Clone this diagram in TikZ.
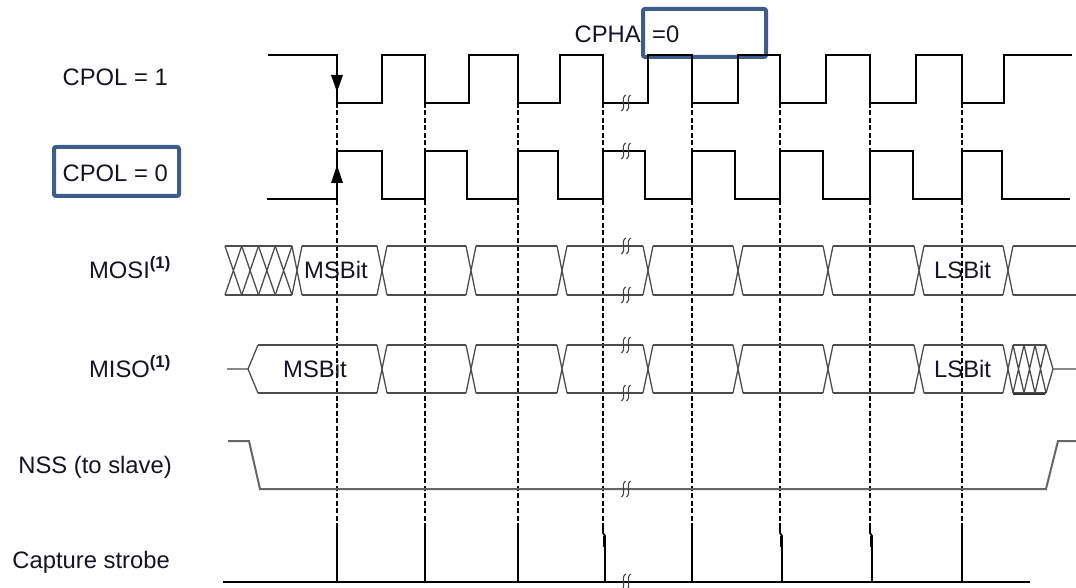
\documentclass[tikz,border=0pt]{standalone}
\usepackage{fontspec}
\setmainfont{Liberation Sans}
\definecolor{boxblue}{RGB}{62,92,138}
\definecolor{txt}{RGB}{20,20,35}
\begin{document}
\begin{tikzpicture}[x=1pt,y=-1pt,
  clk/.style={line width=1.8pt, black, line join=miter},
  dat/.style={line width=1.3pt, black!70},
  nssl/.style={line width=2pt, black!60},
  dsh/.style={line width=1.4pt, black, dash pattern=on 5pt off 2.5pt},
  stb/.style={line width=1.8pt, black},
  lbl/.style={font=\fontsize{23.8}{28}\selectfont, text=txt, inner sep=0pt},
  hl/.style={draw=boxblue, line width=4pt, rounded corners=2pt},
  brkl/.style={line width=1.1pt, black!75},
  brk/.pic={\foreach \d in {-2.5,2.5}{\draw[brkl] ({\d+2},-8) .. controls ({\d-3.5},-3) and ({\d+3.5},3) .. ({\d-2},8);}}
]
\useasboundingbox (0,0) rectangle (1076,588);

% labels
\node[lbl, anchor=base east] (lcpol1) at (168,86) {CPOL = 1};
\node[lbl, anchor=base east] (lcpol0) at (168,182) {CPOL = 0};
\node[lbl, anchor=base east] (lmosi) at (171,278) {MOSI\textsuperscript{\bfseries(1)}};
\node[lbl, anchor=base east] (lmiso) at (171,377) {MISO\textsuperscript{\bfseries(1)}};
\node[lbl, anchor=base east] (lnss) at (172,473) {NSS (to slave)};
\node[lbl, anchor=base east] (lcap) at (170,568) {Capture strobe};
\node[lbl, anchor=base east] (lcpha) at (641,43) {CPHA};
\node[lbl, anchor=base west] (leq) at (652,43) {=0};

% highlight boxes
\draw[hl] (54,147) rectangle (179,196);
\draw[hl] (643,9) rectangle (766,57);

% dashed verticals
\foreach \x in {337,425,518,603,692,780,870,962}
  \draw[dsh] (\x,103)--(\x,528);

% CPOL = 1 clock
\draw[clk] (268,55) -- (337,55) -- (337,103) -- (382,103) -- (382,55) -- (425,55) -- (425,103) -- (469,103) -- (469,55) -- (518,55) -- (518,103) -- (560,103) -- (560,55) -- (603,55) -- (603,103) -- (648,103) -- (648,55) -- (692,55) -- (692,103) -- (738,103) -- (738,55) -- (780,55) -- (780,103) -- (826,103) -- (826,55) -- (870,55) -- (870,103) -- (916,103) -- (916,55) -- (962,55) -- (962,103) -- (1004,103) -- (1004,55) -- (1072,55);
\fill (331,75) -- (343,75) -- (337,92) -- cycle;

% CPOL = 0 clock
\draw[clk] (267,199) -- (337,199) -- (337,151) -- (382,151) -- (382,199) -- (425,199) -- (425,151) -- (467,151) -- (467,199) -- (518,199) -- (518,151) -- (558,151) -- (558,199) -- (603,199) -- (603,151) -- (645,151) -- (645,199) -- (692,199) -- (692,151) -- (735,151) -- (735,199) -- (780,199) -- (780,151) -- (823,151) -- (823,199) -- (870,199) -- (870,151) -- (913,151) -- (913,199) -- (962,199) -- (962,151) -- (1002,151) -- (1002,199) -- (1070,199);
\fill (331,183) -- (343,183) -- (337,165) -- cycle;

% MOSI
\draw[dat] (225,246)--(292,246) (225,295)--(292,295);
\foreach \k in {0,...,3}{
  \pgfmathsetmacro\xa{225+16.75*\k}
  \pgfmathsetmacro\xb{225+16.75*(\k+1)}
  \draw[dat] (\xa,246)--(\xb,295) (\xa,295)--(\xb,246);
}
\foreach \a/\b in {302/377,387/466,476/557,567/643,653/733,743/823,833/914,924/1003,1013/1076}
  \draw[dat] (\a,246)--(\b,246) (\a,295)--(\b,295);
\foreach \c in {297,382,471,562,648,738,828,919,1008}
  \draw[dat] ({\c-5},246)--({\c+5},295) ({\c-5},295)--({\c+5},246);
\node[lbl, anchor=base west] (msb1) at (304,278) {MSBit};
\node[lbl, anchor=base west] (lsb1) at (934,278) {LSBit};

% MISO
\draw[dat] (227,369)--(248,369) (258,345)--(248,369)--(258,393);
\foreach \a/\b in {258/377,387/466,476/557,567/643,653/733,743/823,833/914,924/1003}
  \draw[dat] (\a,345)--(\b,345) (\a,393)--(\b,393);
\foreach \c in {382,471,562,648,738,828,919,1008}
  \draw[dat] ({\c-5},345)--({\c+5},393) ({\c-5},393)--({\c+5},345);
\draw[dat] (1013,345)--(1046,345) (1013,393)--(1046,393);
\foreach \k in {0,1,2}{
  \pgfmathsetmacro\xa{1013+11*\k}
  \pgfmathsetmacro\xb{1013+11*(\k+1)}
  \draw[dat] (\xa,345)--(\xb,393) (\xa,393)--(\xb,345);
}
\draw[dat] (1046,345)--(1053,369)--(1046,393) (1053,369)--(1076,369);
\draw[line width=2.4pt, black!80] (1013,394)--(1045,394);
\node[lbl, anchor=base west] (msb2) at (283,377) {MSBit};
\node[lbl, anchor=base west] (lsb2) at (934,377) {LSBit};

% NSS
\draw[nssl] (228,441) -- (249,441) -- (260,489) -- (1046,489) -- (1058,441) -- (1076,441);

% Capture strobe
\draw[stb] (223,582) -- (1030,582);
\foreach \x in {337,425,518,692,962}
  \draw[stb] (\x,528) -- (\x,582);
\foreach \x in {603,780,870}{
  \draw[stb] (\x,528) -- (\x,533) -- ({\x+2},536) -- ({\x+2},582);
  \draw[line width=2.8pt] ({\x+1.5},536) -- ({\x+1.5},547);
}

% break marks
\foreach \y in {103,151,246,295,345,393,489,582}
  \pic at (626,\y) {brk};
\end{tikzpicture}
\end{document}
